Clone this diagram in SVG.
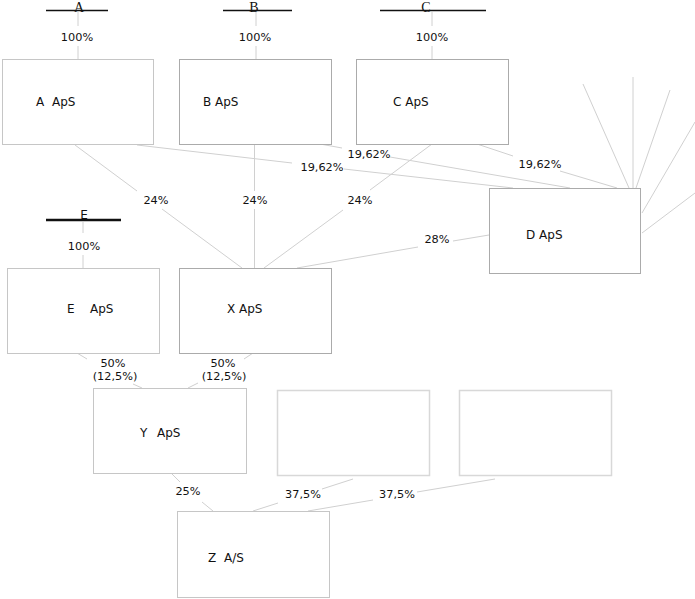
<svg xmlns="http://www.w3.org/2000/svg" width="695" height="599" viewBox="0 0 695 599">
<style>
.box{fill:#fff;stroke:#ababab;stroke-width:1}
.lbox{fill:#fff;stroke:#c6c6c6;stroke-width:1}
.bbox{fill:#fff;stroke:#d8d8d8;stroke-width:1.5}
.name{font-family:"DejaVu Sans",sans-serif;font-size:12px;fill:#111}
.pct{font-family:"DejaVu Sans",sans-serif;font-size:11.3px;fill:#111;text-anchor:middle}
.own{font-family:"Liberation Serif",serif;font-size:14px;fill:#111;text-anchor:middle}
.ownE{font-family:"DejaVu Sans",sans-serif;font-size:12px;fill:#111;text-anchor:middle}
.bar{stroke:#111;stroke-width:1.5;fill:none}
.con{stroke:#d0d0d0;stroke-width:1;fill:none}
</style>
<rect width="695" height="599" fill="#fff"/>
<g id="connectors">
<path class="con" d="M78 12V26M78 46V59M256 12V26M256 46V59M432 12V26M432 46V59M83 222V233M83 255V268"/>
<path class="con" d="M75 145L137 191M162 209L242 268"/>
<path class="con" d="M254.5 145V191M254.5 209V268"/>
<path class="con" d="M432 144L370 190M343 210L264 268"/>
<path class="con" d="M489 235L453 241M418 247L297 268"/>
<path class="con" d="M137 145L292 163M344 169L513 188"/>
<path class="con" d="M320 144L342 148M390 157L570 188"/>
<path class="con" d="M477 144L513 156M560 171L617 188"/>
<path class="con" d="M583 84L629 188M633 77V188M670 90L636 188M695 122L642 213M695 193L642 233"/>
<path class="con" d="M77 353L87 359M133 384L142 388"/>
<path class="con" d="M253 353L244 359M198 383L188 388"/>
<path class="con" d="M172 474L180 482M202 502L213 511"/>
<path class="con" d="M353 479L322 489M278 503L253 511"/>
<path class="con" d="M495 479L417 492M373 500L308 511"/>
</g>
<g id="owner-A"><line class="bar" x1="46" y1="10.5" x2="108" y2="10.5"/><text class="own" x="79" y="11.5">A</text></g>
<g id="owner-B"><line class="bar" x1="223" y1="10.5" x2="292" y2="10.5"/><text class="own" x="254" y="11.5">B</text></g>
<g id="owner-C"><line class="bar" x1="380" y1="10.5" x2="486" y2="10.5"/><text class="own" x="426" y="11.5">C</text></g>
<g id="owner-E"><line class="bar" x1="46" y1="220" x2="121" y2="220" style="stroke-width:2.5"/><text class="ownE" x="84" y="219">E</text></g>
<g id="labels">
<text class="pct" x="77" y="41">100%</text>
<text class="pct" x="255" y="41">100%</text>
<text class="pct" x="432" y="41">100%</text>
<text class="pct" x="84" y="250">100%</text>
<text class="pct" x="156" y="204">24%</text>
<text class="pct" x="255" y="204">24%</text>
<text class="pct" x="360" y="204">24%</text>
<text class="pct" x="437" y="243">28%</text>
<text class="pct" x="322" y="171">19,62%</text>
<text class="pct" x="369" y="158">19,62%</text>
<text class="pct" x="540" y="168">19,62%</text>
<text class="pct" x="113" y="367">50%</text>
<text class="pct" x="115" y="380">(12,5%)</text>
<text class="pct" x="223" y="367">50%</text>
<text class="pct" x="224" y="380">(12,5%)</text>
<text class="pct" x="188" y="495">25%</text>
<text class="pct" x="303" y="498">37,5%</text>
<text class="pct" x="397" y="498">37,5%</text>
</g>
<g id="node-A"><rect class="lbox" x="2.5" y="59.5" width="151" height="85"/><text class="name" y="106"><tspan x="36">A</tspan><tspan x="52">ApS</tspan></text></g>
<g id="node-B"><rect class="box" x="179.5" y="59.5" width="152" height="85"/><text class="name" x="203" y="106">B ApS</text></g>
<g id="node-C"><rect class="box" x="356.5" y="59.5" width="152" height="85"/><text class="name" x="393" y="106">C ApS</text></g>
<g id="node-D"><rect class="box" x="489.5" y="188.5" width="151" height="85"/><text class="name" x="526" y="239">D ApS</text></g>
<g id="node-E"><rect class="lbox" x="7.5" y="268.5" width="152" height="85"/><text class="name" y="313"><tspan x="67">E</tspan><tspan x="90">ApS</tspan></text></g>
<g id="node-X"><rect class="box" x="179.5" y="268.5" width="152" height="85"/><text class="name" x="227" y="313">X ApS</text></g>
<g id="node-Y"><rect class="lbox" x="93.5" y="388.5" width="153" height="85"/><text class="name" y="437"><tspan x="140">Y</tspan><tspan x="157">ApS</tspan></text></g>
<g id="node-blank1"><rect class="bbox" x="277.5" y="390.5" width="152" height="85"/></g>
<g id="node-blank2"><rect class="bbox" x="459.5" y="390.5" width="152" height="85"/></g>
<g id="node-Z"><rect class="lbox" x="177.5" y="511.5" width="152" height="86"/><text class="name" y="562"><tspan x="208">Z</tspan><tspan x="224">A/S</tspan></text></g>
</svg>
